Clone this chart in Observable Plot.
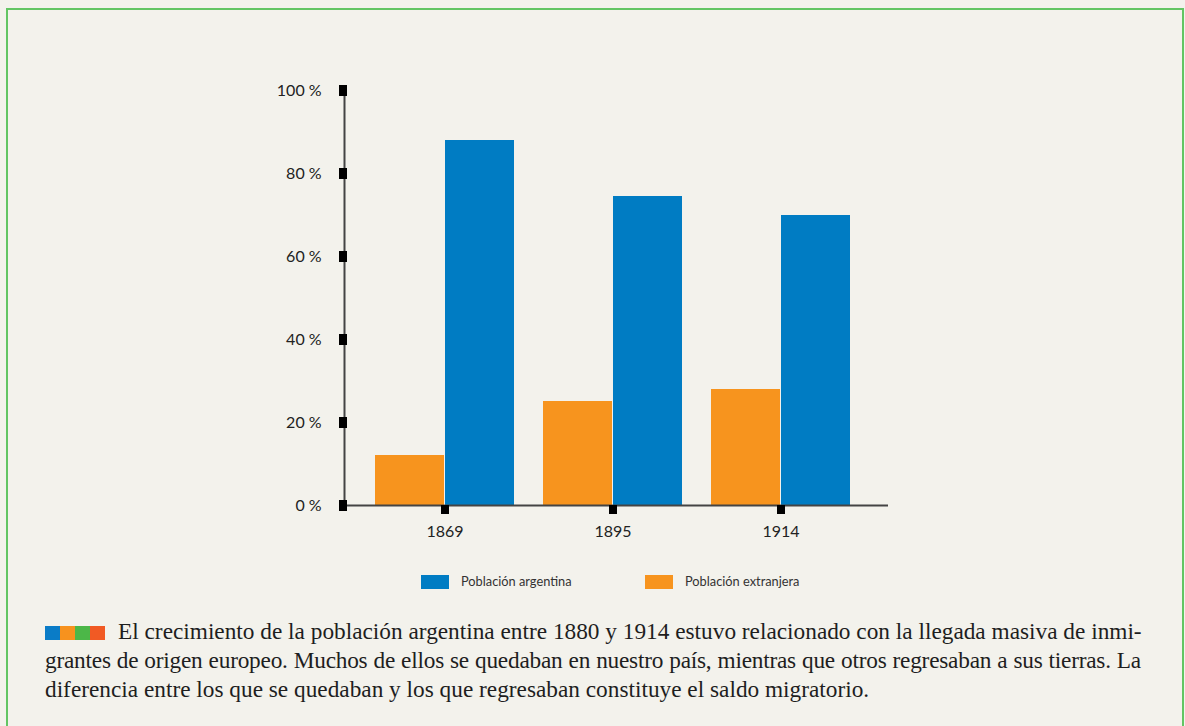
<!DOCTYPE html>
<html>
<head>
<meta charset="utf-8">
<script src="https://cdn.jsdelivr.net/npm/d3@7"></script>
<script src="https://cdn.jsdelivr.net/npm/@observablehq/plot@0.6"></script>
<style>
  html, body { margin: 0; padding: 0; background: #f3f2ec; width: 1185px; height: 726px; overflow: hidden; }
  #box { position: absolute; left: 6px; top: 8px; width: 1178px; height: 740px; box-sizing: border-box;
         border: 2px solid #63c563; background: #f3f2ec; }
  #chart { position: absolute; left: 0; top: 0; }
  .legend { position: absolute; top: 575px; font-family: Lato, "Open Sans", sans-serif; font-size: 12.8px; color: #333; }
  .legend .sw { position: absolute; top: 0; width: 28px; height: 14px; }
  .legend .lb { position: absolute; top: -2px; white-space: nowrap; line-height: 17px; }
  #caption { position: absolute; left: 45px; top: 617px; width: 1096px; font-family: "Liberation Serif", serif;
             font-size: 23.3px; line-height: 29px; color: #1e1e1e; }
  #caption .j { text-align: justify; text-align-last: justify; white-space: nowrap; }
  #caption .tight { letter-spacing: -0.22px; }
  #caption .sq { display: inline-block; width: 15px; height: 14px; vertical-align: -1px; }
</style>
</head>
<body>
<div id="box"></div>
<div id="chart"></div>
<div id="legend"></div>
<div id="caption"></div>
<script>
const years = ["1869", "1895", "1914"];
const poblacionArgentina = [88, 74.5, 70];
const poblacionExtranjera = [12, 25, 28];
const seriesNames = ["Población argentina", "Población extranjera"];
const seriesColors = ["#007cc3", "#f7941e"];
const yTicks = [0, 20, 40, 60, 80, 100];
const captionLines = [
  "El crecimiento de la población argentina entre 1880 y 1914 estuvo relacionado con la llegada masiva de inmi-",
  "grantes de origen europeo. Muchos de ellos se quedaban en nuestro país, mientras que otros regresaban a sus tierras. La",
  "diferencia entre los que se quedaban y los que regresaban constituye el saldo migratorio."
];
const bulletColors = ["#0a7cc7", "#f7921e", "#4cb748", "#f15a24"];

const rowsArg = years.map((y, i) => ({year: y, value: poblacionArgentina[i], serie: seriesNames[0]}));
const rowsExt = years.map((y, i) => ({year: y, value: poblacionExtranjera[i], serie: seriesNames[1]}));

const W = 1185, H = 560, mL = 344, mR = 297, mT = 90, mB = 55;
const pIn = 0.17, pOut = 0.1945;
const step = (W - mL - mR) / (years.length - pIn + 2 * pOut);
const half = step * (1 - pIn) / 2;

const chart = Plot.plot({
  width: W, height: H,
  marginLeft: mL, marginRight: mR, marginTop: mT, marginBottom: mB,
  style: {background: "transparent", fontFamily: "Lato, 'Open Sans', sans-serif", fontSize: "16px", color: "#222"},
  x: {domain: years, paddingInner: pIn, paddingOuter: pOut, align: 0.45, label: null},
  y: {domain: [0, 100], label: null},
  color: {domain: seriesNames, range: seriesColors},
  marks: [
    Plot.barY(rowsExt, {x: "year", y: "value", fill: "serie", insetRight: half, shapeRendering: "crispEdges"}),
    Plot.barY(rowsArg, {x: "year", y: "value", fill: "serie", insetLeft: half, shapeRendering: "crispEdges"}),
    Plot.frame({anchor: "left", stroke: "#444", strokeWidth: 2}),
    Plot.ruleY([0], {stroke: "#444", strokeWidth: 2}),
    Plot.axisY({ticks: yTicks, tickSize: 8, dx: 3, stroke: "#000", strokeWidth: 11, tickPadding: 18,
                tickFormat: d => `${d}\u2009\u2009%`, label: null, fontSize: 16}),
    Plot.axisX({tickSize: 9, stroke: "#000", strokeWidth: 8, tickPadding: 11, label: null, fontSize: 16})
  ]
});
document.getElementById("chart").appendChild(chart);

// legend
const legend = document.getElementById("legend");
const legendX = [421, 645];
seriesNames.forEach((name, i) => {
  const g = document.createElement("div");
  g.className = "legend";
  g.style.left = legendX[i] + "px";
  g.innerHTML = `<div class="sw" style="left:0;background:${seriesColors[i]}"></div><div class="lb" style="left:40px">${name}</div>`;
  legend.appendChild(g);
});

// caption
const cap = document.getElementById("caption");
captionLines.forEach((line, i) => {
  const d = document.createElement("div");
  if (i < 2) d.className = "j";
  if (i === 1) d.classList.add("tight");
  if (i === 0) {
    const sq = bulletColors.map(c => `<span class="sq" style="background:${c}"></span>`).join("");
    d.innerHTML = `<span style="white-space:nowrap;margin-right:13px">${sq}</span>` + line;
  } else {
    d.textContent = line;
  }
  cap.appendChild(d);
});
</script>
</body>
</html>
